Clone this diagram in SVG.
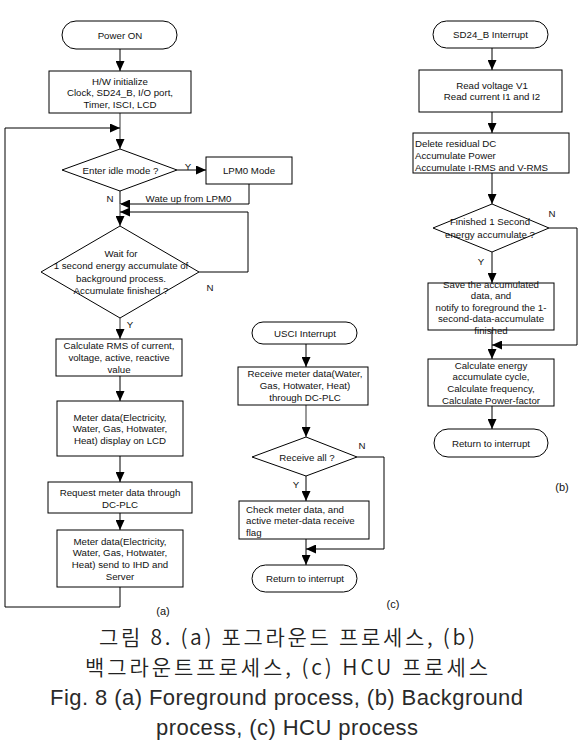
<svg xmlns="http://www.w3.org/2000/svg" width="587" height="750" viewBox="0 0 587 750">
<style>
.b{fill:#fff;stroke:#000;stroke-width:1}
.t{font-family:"Liberation Sans",Arial,sans-serif;font-size:9.7px;fill:#111;text-anchor:middle}
.l{text-anchor:start}
.lab{font-family:"Liberation Sans",Arial,sans-serif;font-size:11px;fill:#111;text-anchor:middle}
.c{fill:none;stroke:#000;stroke-width:1}
.g{fill:none;stroke:#999;stroke-width:2}
.cap{font-family:"Noto Sans CJK KR","Liberation Sans",sans-serif;font-size:21px;font-weight:350;fill:#222;text-anchor:start}
.capl{font-family:"Liberation Sans",Arial,sans-serif;font-size:22px;fill:#2a2a2a;text-anchor:start}
</style>
<defs>
<marker id="arr" viewBox="0 0 10 9" markerWidth="10" markerHeight="9" refX="10" refY="4.5" orient="auto" markerUnits="userSpaceOnUse">
<path d="M0,0 L10,4.5 L0,9 z" fill="#000"/>
</marker>
</defs>
<rect width="587" height="750" fill="#fff"/>

<g id="connectors">
<path class="c" d="M120,49 V71" marker-end="url(#arr)"/>
<path class="g" d="M120,113 V149" marker-end="url(#arr)"/>
<path class="c" d="M120,587 V607 H5 V128 H120" marker-end="url(#arr)"/>
<path class="c" d="M177,170 H206" marker-end="url(#arr)"/>
<path class="c" d="M249,184 V204 H120" marker-end="url(#arr)"/>
<path class="c" d="M120,191 V204"/>
<path class="g" d="M120,204 V226" marker-end="url(#arr)"/>
<path class="c" d="M199,272 H248 V212 H120" marker-end="url(#arr)"/>
<path class="g" d="M120,318 V339" marker-end="url(#arr)"/>
<path class="c" d="M120,376 V401" marker-end="url(#arr)"/>
<path class="c" d="M120,456 V482" marker-end="url(#arr)"/>
<path class="c" d="M120,513 V530" marker-end="url(#arr)"/>

<path class="c" d="M306,344 V367" marker-end="url(#arr)"/>
<path class="g" d="M306,405 V437" marker-end="url(#arr)"/>
<path class="c" d="M357,457 H384 V549 H306" marker-end="url(#arr)"/>
<path class="c" d="M306,476 V501" marker-end="url(#arr)"/>
<path class="c" d="M306,539 V565" marker-end="url(#arr)"/>

<path class="c" d="M492,48 V70" marker-end="url(#arr)"/>
<path class="c" d="M492,112 V133" marker-end="url(#arr)"/>
<path class="c" d="M492,173 V204" marker-end="url(#arr)"/>
<path class="c" d="M549,228 H577 V345 H492" marker-end="url(#arr)"/>
<path class="c" d="M492,252 V283" marker-end="url(#arr)"/>
<path class="c" d="M492,330 V359" marker-end="url(#arr)"/>
<path class="c" d="M492,406 V429" marker-end="url(#arr)"/>

<text class="t" x="188" y="169.5">Y</text>
<text class="t" x="110" y="201.5">N</text>
<text class="t" x="188.5" y="201.5">Wate up from LPM0</text>
<text class="t" x="210" y="290.5">N</text>
<text class="t" x="130" y="327.5">Y</text>
<text class="t" x="362" y="448.5">N</text>
<text class="t" x="296" y="487.5">Y</text>
<text class="t" x="552" y="216.5">N</text>
<text class="t" x="481" y="264.5">Y</text>
</g>

<g id="power-on">
<rect class="b" x="62" y="21" width="115" height="28" rx="14"/>
<text class="t" x="120" y="38.5">Power ON</text>
</g>
<g id="hw-init">
<rect class="b" x="49" y="71" width="142" height="42"/>
<text class="t" x="120" y="84.5">H/W initialize</text>
<text class="t" x="120" y="96">Clock, SD24_B, I/O port,</text>
<text class="t" x="120" y="107.5">Timer, ISCI, LCD</text>
</g>
<g id="idle-decision">
<polygon class="b" points="120,149 177,170 120,191 62,170"/>
<text class="t" x="120.5" y="173.5">Enter idle mode ?</text>
</g>
<g id="lpm0">
<rect class="b" x="206" y="157" width="86" height="27"/>
<text class="t" x="249" y="173.5">LPM0 Mode</text>
</g>
<g id="wait-decision">
<polygon class="b" points="120,226 199,272 120,318 41,272"/>
<text class="t" x="121" y="256.5">Wait for</text>
<text class="t" x="121" y="269">1 second energy accumulate of</text>
<text class="t" x="121" y="281.5">background process.</text>
<text class="t" x="121" y="293.5">Accumulate finished ?</text>
</g>
<g id="calc-rms">
<rect class="b" x="56" y="339" width="126" height="37"/>
<text class="t" x="119" y="348.5">Calculate RMS of current,</text>
<text class="t" x="119" y="360.5">voltage, active, reactive</text>
<text class="t" x="119" y="373">value</text>
</g>
<g id="display-lcd">
<rect class="b" x="57" y="401" width="126" height="55"/>
<text class="t" x="120" y="420.5">Meter data(Electricity,</text>
<text class="t" x="120" y="432">Water, Gas, Hotwater,</text>
<text class="t" x="120" y="443.5">Heat) display on LCD</text>
</g>
<g id="request-plc">
<rect class="b" x="48" y="482" width="144" height="31"/>
<text class="t" x="120" y="495.5">Request meter data through</text>
<text class="t" x="120" y="507.5">DC-PLC</text>
</g>
<g id="send-ihd">
<rect class="b" x="57" y="530" width="126" height="57"/>
<text class="t" x="120" y="544.5">Meter data(Electricity,</text>
<text class="t" x="120" y="556.3">Water, Gas, Hotwater,</text>
<text class="t" x="120" y="568.1">Heat) send to IHD and</text>
<text class="t" x="120" y="579.9">Server</text>
</g>
<text class="lab" x="163" y="615">(a)</text>

<g id="usci-int">
<rect class="b" x="252" y="322" width="105" height="22" rx="11"/>
<text class="t" x="305" y="336.5">USCI Interrupt</text>
</g>
<g id="receive-data">
<rect class="b" x="238" y="367" width="130" height="38"/>
<text class="t" x="305" y="376.5">Receive meter data(Water,</text>
<text class="t" x="305" y="388.5">Gas, Hotwater, Heat)</text>
<text class="t" x="305" y="400.5">through DC-PLC</text>
</g>
<g id="receive-all">
<polygon class="b" points="306,437 357,457 306,476 252,457"/>
<text class="t" x="307" y="460.5">Receive all ?</text>
</g>
<g id="check-data">
<rect class="b" x="239" y="501" width="130" height="38"/>
<text class="t l" x="246" y="512.5">Check meter data, and</text>
<text class="t l" x="246" y="524">active meter-data receive</text>
<text class="t l" x="246" y="535.5">flag</text>
</g>
<g id="return-c">
<rect class="b" x="252" y="565" width="105" height="27" rx="13.5"/>
<text class="t" x="305" y="581.5">Return to interrupt</text>
</g>
<text class="lab" x="393" y="608">(c)</text>

<g id="sd24-int">
<rect class="b" x="433" y="21" width="115" height="27" rx="13.5"/>
<text class="t" x="490.5" y="38">SD24_B Interrupt</text>
</g>
<g id="read-vi">
<rect class="b" x="419" y="70" width="143" height="42"/>
<text class="t" x="492" y="88.5">Read voltage V1</text>
<text class="t" x="492" y="99.5">Read current I1 and I2</text>
</g>
<g id="delete-dc">
<rect class="b" x="413" y="133" width="156" height="40"/>
<text class="t l" x="415" y="146.5">Delete residual  DC</text>
<text class="t l" x="415" y="158.5">Accumulate Power</text>
<text class="t l" x="415" y="170.5">Accumulate I-RMS and V-RMS</text>
</g>
<g id="finished-decision">
<polygon class="b" points="492,204 549,228 492,252 433,228"/>
<text class="t" x="490" y="225">Finished 1 Second</text>
<text class="t" x="490" y="237.5">energy accumulate ?</text>
</g>
<g id="save-data">
<rect class="b" x="428" y="283" width="126" height="47"/>
<text class="t" x="491" y="287.5">Save the accumulated</text>
<text class="t" x="491" y="299">data, and</text>
<text class="t" x="491" y="310.5">notify to foreground the 1-</text>
<text class="t" x="491" y="322">second-data-accumulate</text>
<text class="t" x="491" y="333.5">finished</text>
</g>
<g id="calc-energy">
<rect class="b" x="428" y="359" width="126" height="47"/>
<text class="t" x="491" y="368.5">Calculate energy</text>
<text class="t" x="491" y="380.3">accumulate cycle,</text>
<text class="t" x="491" y="392.1">Calculate frequency,</text>
<text class="t" x="491" y="403.9">Calculate Power-factor</text>
</g>
<g id="return-b">
<rect class="b" x="434" y="429" width="114" height="28" rx="14"/>
<text class="t" x="491" y="446.5">Return to interrupt</text>
</g>
<text class="lab" x="562" y="491">(b)</text>

<g id="caption">
<text class="cap" x="99" y="645" textLength="376" lengthAdjust="spacing">그림 8. (a) 포그라운드 프로세스, (b)</text>
<text class="cap" x="85" y="675" textLength="403" lengthAdjust="spacing">백그라운트프로세스, (c) HCU 프로세스</text>
<text class="capl" x="50" y="705" textLength="473" lengthAdjust="spacing">Fig. 8 (a) Foreground process, (b) Background</text>
<text class="capl" x="156" y="735" textLength="262" lengthAdjust="spacing">process, (c) HCU process</text>
</g>
</svg>
